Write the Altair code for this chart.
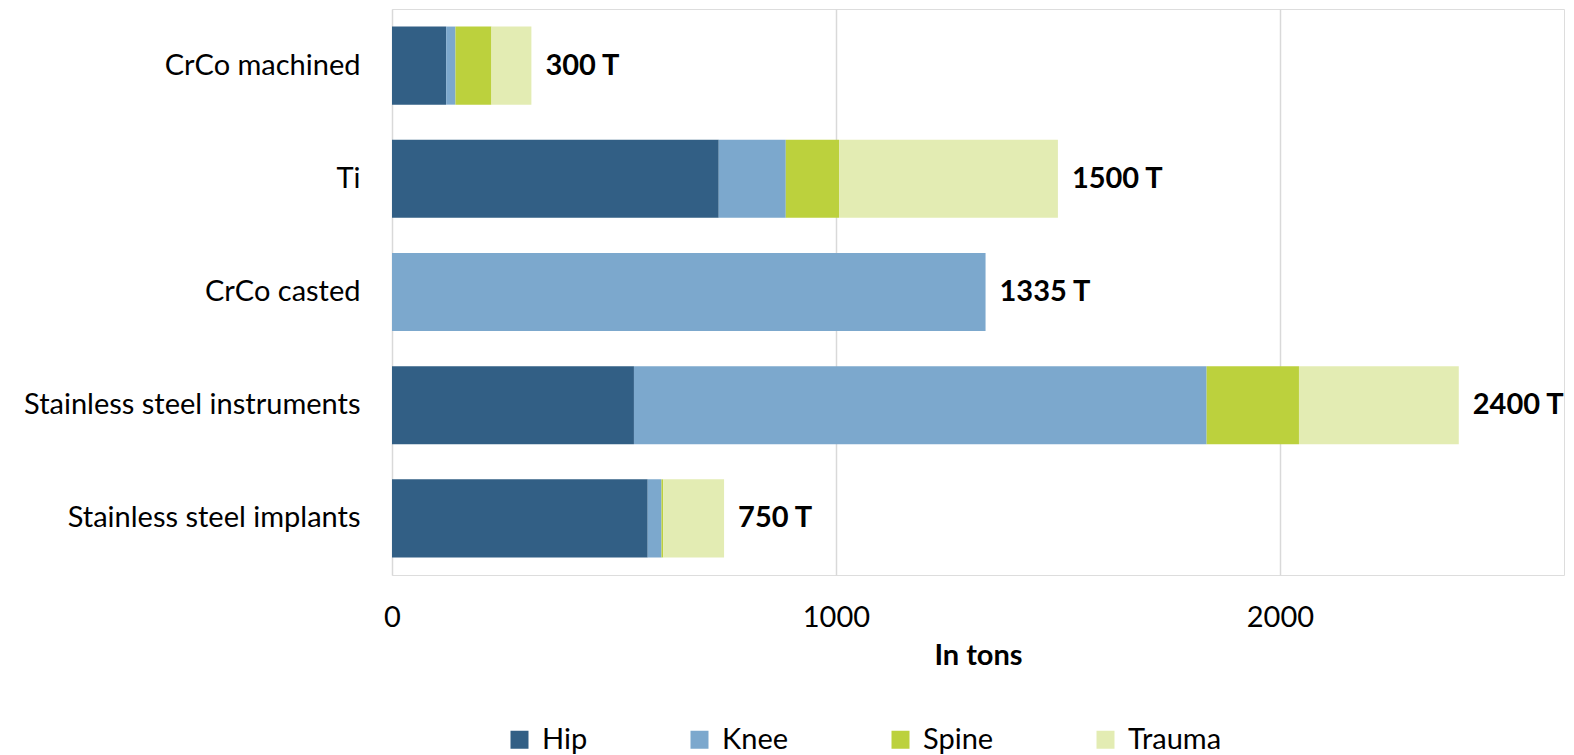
import altair as alt
import pandas as pd

categories = ["CrCo machined", "Ti", "CrCo casted", "Stainless steel instruments", "Stainless steel implants"]
series = ["Hip", "Knee", "Spine", "Trauma"]
hip = [122, 736, 0, 545, 576]
knee = [21, 151, 1337, 1290, 31]
spine = [81, 120, 0, 208, 4]
trauma = [90, 493, 0, 360, 137]
labels = ["300 T", "1500 T", "1335 T", "2400 T", "750 T"]
colors = ["#325f85", "#7ca8cd", "#bcd13d", "#e3ecb3"]

rows = []
for i, c in enumerate(categories):
    for j, (s, vals) in enumerate(zip(series, [hip, knee, spine, trauma])):
        rows.append({"cat": c, "series": s, "value": vals[i], "ord": j})
df = pd.DataFrame(rows)

totals = [h + k + s + t for h, k, s, t in zip(hip, knee, spine, trauma)]
ldf = pd.DataFrame({"cat": categories, "total": totals, "label": labels})

FONT = "Lato"
FS = 29

xscale = alt.Scale(domain=[0, 2640], nice=False, zero=True)
yscale = alt.Scale(domain=categories, paddingInner=0.31, paddingOuter=0.155)

bars = alt.Chart(df).mark_bar().encode(
    y=alt.Y("cat:N", scale=yscale, sort=categories,
            axis=alt.Axis(title=None, domain=False, ticks=False, labelPadding=32,
                          labelFontSize=FS, labelFont=FONT, labelColor="#000000",
                          labelLimit=400)),
    x=alt.X("value:Q", stack="zero", scale=xscale,
            axis=alt.Axis(title="In tons", values=[0, 1000, 2000], format="d",
                          domain=False, ticks=False, labelFlush=False,
                          grid=True, gridColor="#d9d9d9", gridWidth=1.5,
                          labelFontSize=FS, labelFont=FONT, labelColor="#000000",
                          labelPadding=28,
                          titleFontSize=FS, titleFont=FONT, titleFontWeight="bold",
                          titleColor="#000000", titlePadding=9)),
    color=alt.Color("series:N", scale=alt.Scale(domain=series, range=colors),
                    legend=alt.Legend(title=None, orient="none", legendX=113, legendY=716,
                                      direction="horizontal", columns=4, columnPadding=97,
                                      symbolType="square", symbolSize=324, symbolStrokeWidth=0,
                                      symbolOpacity=1, labelFontSize=FS, labelFont=FONT,
                                      labelColor="#000000", labelOffset=8)),
    order=alt.Order("ord:Q"),
)

text = alt.Chart(ldf).mark_text(align="left", baseline="middle", dx=14, fontSize=FS,
                                 font=FONT, fontWeight="bold", color="#000000").encode(
    y=alt.Y("cat:N", scale=yscale, sort=categories),
    x=alt.X("total:Q", scale=xscale),
    text="label:N",
)

chart = alt.layer(bars, text).properties(
    width=1172, height=566,
    autosize=alt.AutoSizeParams(type="none"),
    padding={"left": 392, "top": 9, "right": 10, "bottom": 180},
).configure_view(stroke="transparent", strokeWidth=0).configure(background="#ffffff")

chart.save("out.html", embed_options={"renderer": "svg", "actions": False})
